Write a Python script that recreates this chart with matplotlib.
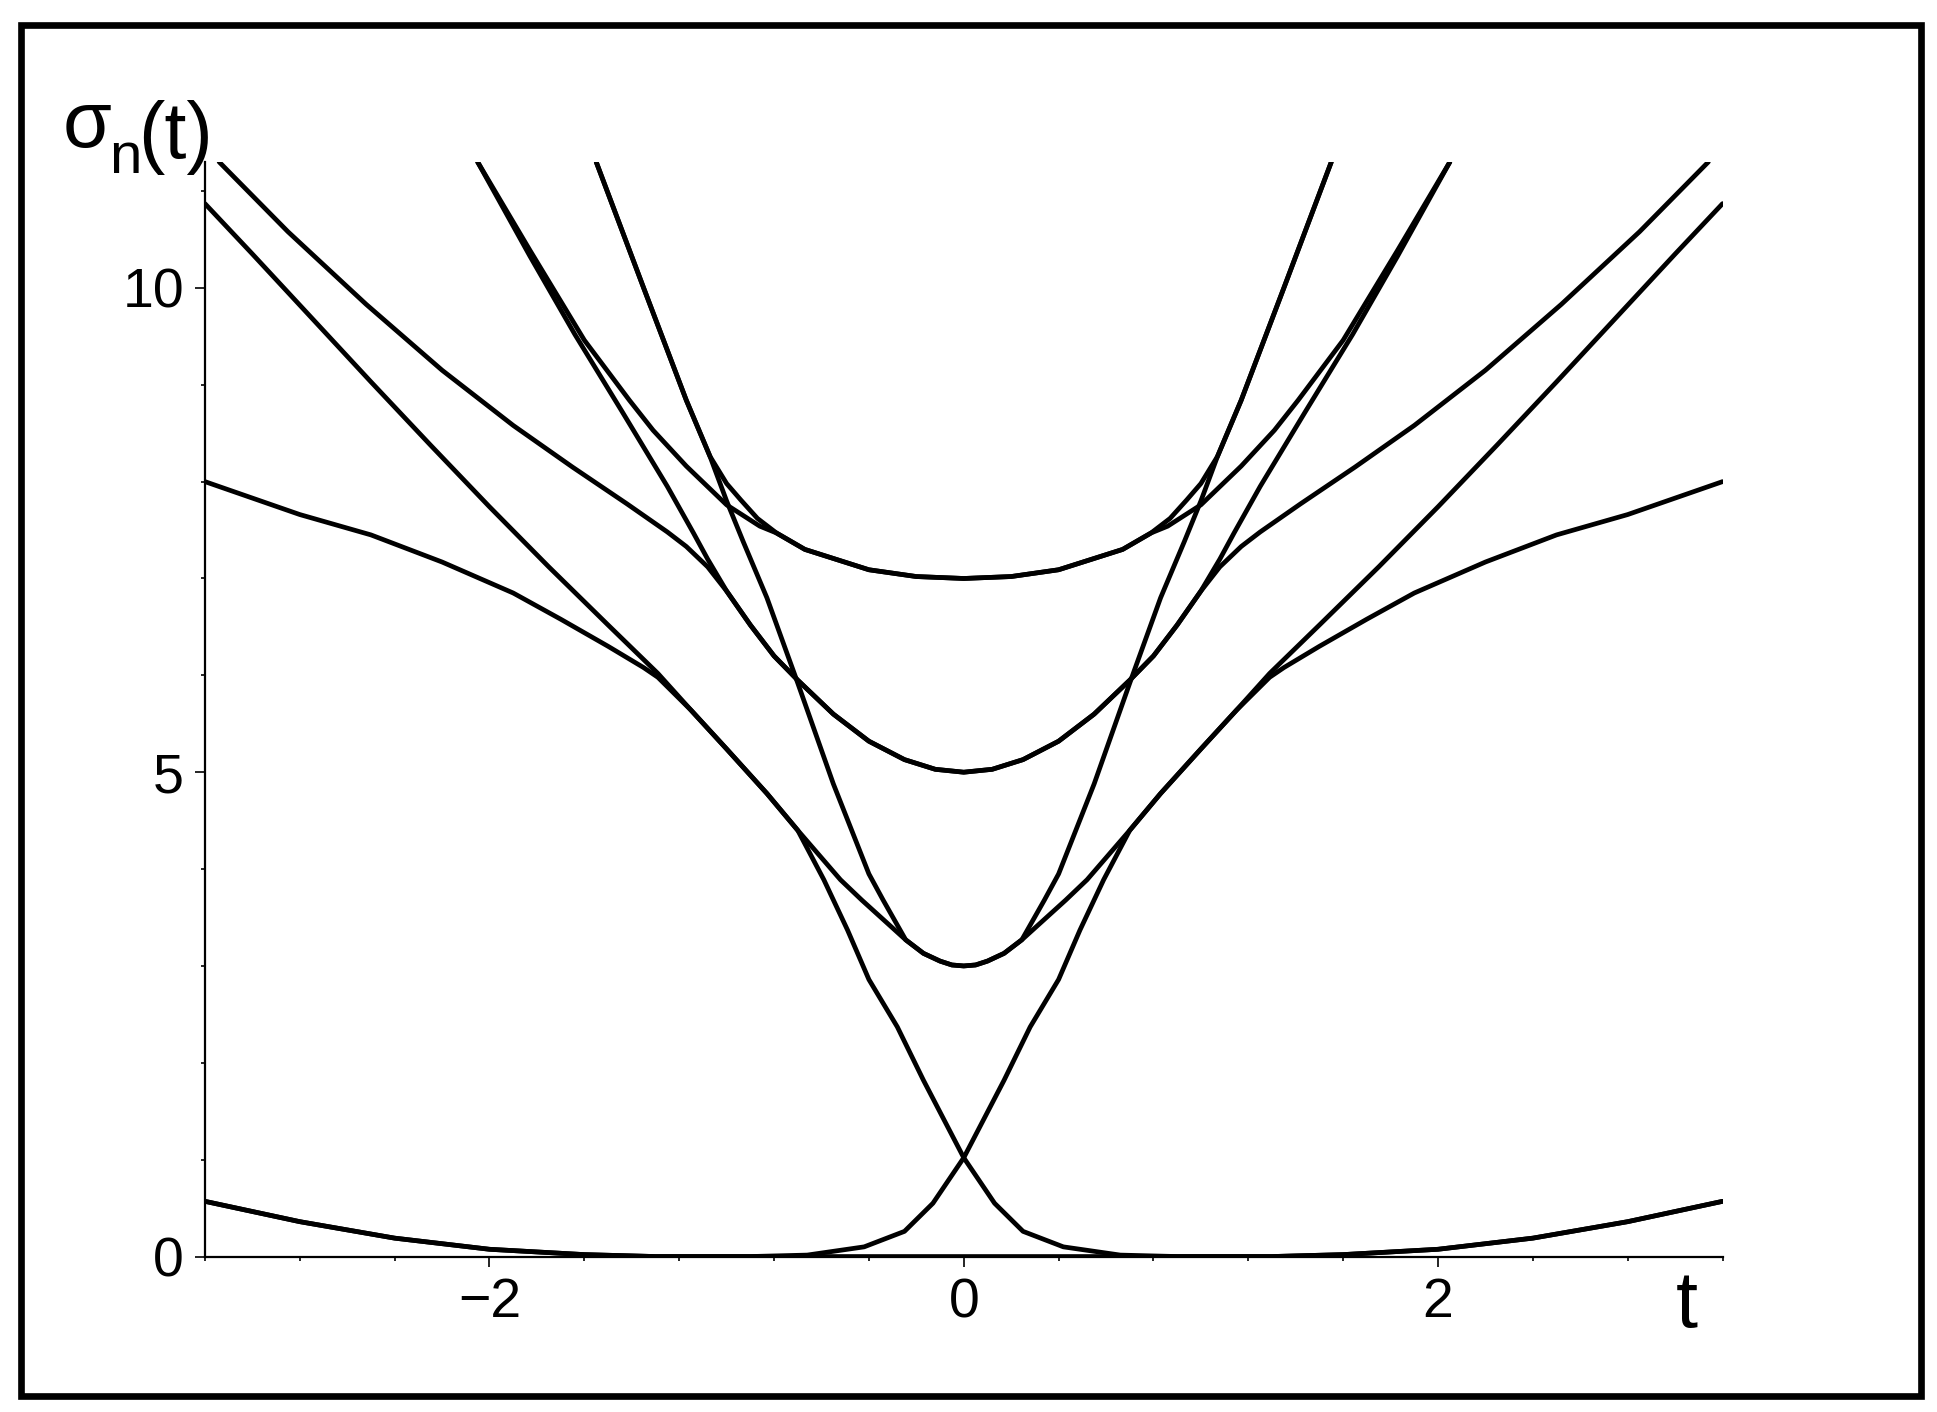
import matplotlib
matplotlib.use("Agg")
import matplotlib.pyplot as plt
from matplotlib.patches import Rectangle

plt.rcParams['font.family'] = ['Liberation Sans', 'DejaVu Sans']

# Curves, t and sigma values
t_b = [-3.2, -2.8, -2.4, -2.0, -1.6, -1.3, 0.0, 1.3, 1.6, 2.0, 2.4, 2.8, 3.2]
s_b = [0.57, 0.36, 0.19, 0.075, 0.02, 0.0, 0.0, 0.0, 0.02, 0.075, 0.19, 0.36, 0.57]

t_xp = [-3.2, -2.8, -2.4, -2.0, -1.6, -1.3, -0.9, -0.66, -0.42, -0.25, -0.13, 0.0,
        0.17, 0.28, 0.40, 0.49, 0.59, 0.70, 0.83, 1.0, 1.15, 1.29, 1.35, 1.5, 1.7,
        1.9, 2.2, 2.5, 2.8, 3.2]
s_xp = [0.57, 0.36, 0.19, 0.075, 0.02, 0.0, 0.0, 0.015, 0.10, 0.26, 0.55, 1.02,
        1.82, 2.37, 2.86, 3.37, 3.89, 4.4, 4.78, 5.24, 5.64, 5.98, 6.08, 6.3, 6.58,
        6.85, 7.17, 7.45, 7.66, 8.0]

t_xm = [-3.2, -2.8, -2.5, -2.2, -1.9, -1.7, -1.5, -1.35, -1.29, -1.15, -1.0, -0.83,
        -0.70, -0.59, -0.49, -0.40, -0.28, -0.17, 0.0, 0.13, 0.25, 0.42, 0.66, 0.9,
        1.3, 1.6, 2.0, 2.4, 2.8, 3.2]
s_xm = [8.0, 7.66, 7.45, 7.17, 6.85, 6.58, 6.3, 6.08, 5.98, 5.64, 5.24, 4.78,
        4.4, 3.89, 3.37, 2.86, 2.37, 1.82, 1.02, 0.55, 0.26, 0.10, 0.015, 0.0,
        0.0, 0.02, 0.075, 0.19, 0.36, 0.57]

# level 3, gentle branch
t_m = [-3.2, -3.0, -2.75, -2.5, -2.25, -2.0, -1.75, -1.5, -1.29, -1.15, -1.0, -0.83,
       -0.70, -0.52, -0.43, -0.245, -0.17, -0.1, -0.05, 0.0, 0.05, 0.1, 0.17, 0.245,
       0.43, 0.52, 0.70, 0.83, 1.0, 1.15, 1.29, 1.5, 1.75, 2.0, 2.25, 2.5, 2.75,
       3.0, 3.2]
s_m = [10.87, 10.35, 9.69, 9.03, 8.38, 7.74, 7.12, 6.52, 6.02, 5.64, 5.24, 4.78,
       4.4, 3.89, 3.68, 3.27, 3.13, 3.05, 3.01, 3.0, 3.01, 3.05, 3.13, 3.27,
       3.68, 3.89, 4.4, 4.78, 5.24, 5.64, 6.02, 6.52, 7.12, 7.74, 8.38, 9.03, 9.69,
       10.35, 10.87]

# level 3, steep branch
t_s = [-1.55, -1.35, -1.17, -1.07, -1.0, -0.93, -0.83, -0.70, -0.55, -0.40, -0.34,
       -0.245, -0.17, -0.1, -0.05, 0.0, 0.05, 0.1, 0.17, 0.245, 0.34, 0.40, 0.55,
       0.70, 0.83, 0.93, 1.0, 1.07, 1.17, 1.35, 1.55]
s_s = [11.3, 10.0, 8.84, 8.26, 7.8, 7.38, 6.8, 5.92, 4.88, 3.95, 3.68,
       3.27, 3.13, 3.05, 3.01, 3.0, 3.01, 3.05, 3.13, 3.27, 3.68, 3.95, 4.88,
       5.92, 6.8, 7.38, 7.8, 8.26, 8.84, 10.0, 11.3]

# level 7, steep branch
t_7a = [-1.55, -1.35, -1.17, -1.07, -1.0, -0.94, -0.87, -0.79, -0.67, -0.58, -0.4,
        -0.2, 0.0, 0.2, 0.4, 0.58, 0.67, 0.79, 0.87, 0.94, 1.0, 1.07, 1.17, 1.35, 1.55]
s_7a = [11.3, 10.0, 8.84, 8.26, 7.98, 7.81, 7.62, 7.47, 7.3, 7.23, 7.09,
        7.02, 7.0, 7.02, 7.09, 7.23, 7.3, 7.47, 7.62, 7.81, 7.98, 8.26, 8.84, 10.0, 11.3]

# level 7, gentle branch
t_7b = [-2.05, -1.83, -1.6, -1.41, -1.31, -1.17, -1.0, -0.86, -0.79, -0.67, -0.58,
        -0.4, -0.2, 0.0, 0.2, 0.4, 0.58, 0.67, 0.79, 0.86, 1.0, 1.17, 1.31, 1.41,
        1.6, 1.83, 2.05]
s_7b = [11.3, 10.39, 9.46, 8.84, 8.53, 8.16, 7.76, 7.54, 7.47, 7.3, 7.23,
        7.09, 7.02, 7.0, 7.02, 7.09, 7.23, 7.3, 7.47, 7.54, 7.76, 8.16, 8.53, 8.84,
        9.46, 10.39, 11.3]

# level 5, gentle branch
t_5a = [-3.14, -2.85, -2.52, -2.2, -1.9, -1.65, -1.42, -1.25, -1.17, -1.08, -1.0,
        -0.9, -0.8, -0.7, -0.55, -0.4, -0.25, -0.12, 0.0, 0.12, 0.25, 0.4, 0.55,
        0.7, 0.8, 0.9, 1.0, 1.08, 1.17, 1.25, 1.42, 1.65, 1.9, 2.2, 2.52, 2.85, 3.14]
s_5a = [11.3, 10.58, 9.83, 9.15, 8.58, 8.15, 7.77, 7.48, 7.33, 7.12, 6.87,
        6.52, 6.2, 5.95, 5.6, 5.32, 5.13, 5.03, 5.0, 5.03, 5.13, 5.32, 5.6,
        5.95, 6.2, 6.52, 6.87, 7.12, 7.33, 7.48, 7.77, 8.15, 8.58, 9.15, 9.83, 10.58, 11.3]

# level 5, steep branch
t_5b = [-2.05, -1.83, -1.64, -1.44, -1.25, -1.14, -1.08, -1.0, -0.9, -0.8, -0.7,
        -0.55, -0.4, -0.25, -0.12, 0.0, 0.12, 0.25, 0.4, 0.55, 0.7, 0.8, 0.9, 1.0,
        1.08, 1.14, 1.25, 1.44, 1.64, 1.83, 2.05]
s_5b = [11.3, 10.33, 9.52, 8.72, 7.95, 7.47, 7.2, 6.87, 6.52, 6.2, 5.95,
        5.6, 5.32, 5.13, 5.03, 5.0, 5.03, 5.13, 5.32, 5.6, 5.95, 6.2, 6.52, 6.87,
        7.2, 7.47, 7.95, 8.72, 9.52, 10.33, 11.3]

curves = [(t_b, s_b), (t_xp, s_xp), (t_xm, s_xm), (t_m, s_m), (t_s, s_s),
          (t_7a, s_7a), (t_7b, s_7b), (t_5a, s_5a), (t_5b, s_5b)]

x_major = [-2, 0, 2]
x_labels = ['\u22122', '0', '2']
x_minor = [-3.2, -2.8, -2.4, -1.6, -1.2, -0.8, -0.4, 0.4, 0.8, 1.2, 1.6, 2.4, 2.8, 3.2]
y_major = [0, 5, 10]
y_minor = [1, 2, 3, 4, 6, 7, 8, 9, 11]

fig = plt.figure(figsize=(19.37, 14.12), dpi=100)
ax = fig.add_axes([0.1058, 0.1101, 0.7835, 0.7752])

for t, s in curves:
    ax.plot(t, s, color='black', lw=3.4, solid_joinstyle='round', solid_capstyle='round')

ax.set_xlim(-3.2, 3.2)
ax.set_ylim(0, 11.3)
ax.spines['top'].set_visible(False)
ax.spines['right'].set_visible(False)
ax.spines['left'].set_linewidth(1.6)
ax.spines['bottom'].set_linewidth(1.6)

ax.set_xticks(x_major)
ax.set_xticklabels(x_labels)
ax.set_xticks(x_minor, minor=True)
ax.set_yticks(y_major)
ax.set_yticks(y_minor, minor=True)
ax.tick_params(which='major', length=7, width=1.2, labelsize=40, pad=8)
ax.tick_params(which='minor', length=3, width=1.2)

# y label sigma_n(t), built from three pieces
fig.text(0.0325, 0.8959, '\u03c3', fontsize=57, va='baseline', ha='left')
fig.text(0.0562, 0.8775, 'n', fontsize=42, va='baseline', ha='left')
fig.text(0.0712, 0.8881, '(t)', fontsize=57, va='baseline', ha='left')
fig.text(0.871, 0.0602, 't', fontsize=57, va='baseline', ha='center')

# outer frame
fig.patches.append(Rectangle((0.01084, 0.01133), 0.9809, 0.971, transform=fig.transFigure,
                             fill=False, edgecolor='black', lw=4.8))

fig.savefig('out.png', dpi=100)
